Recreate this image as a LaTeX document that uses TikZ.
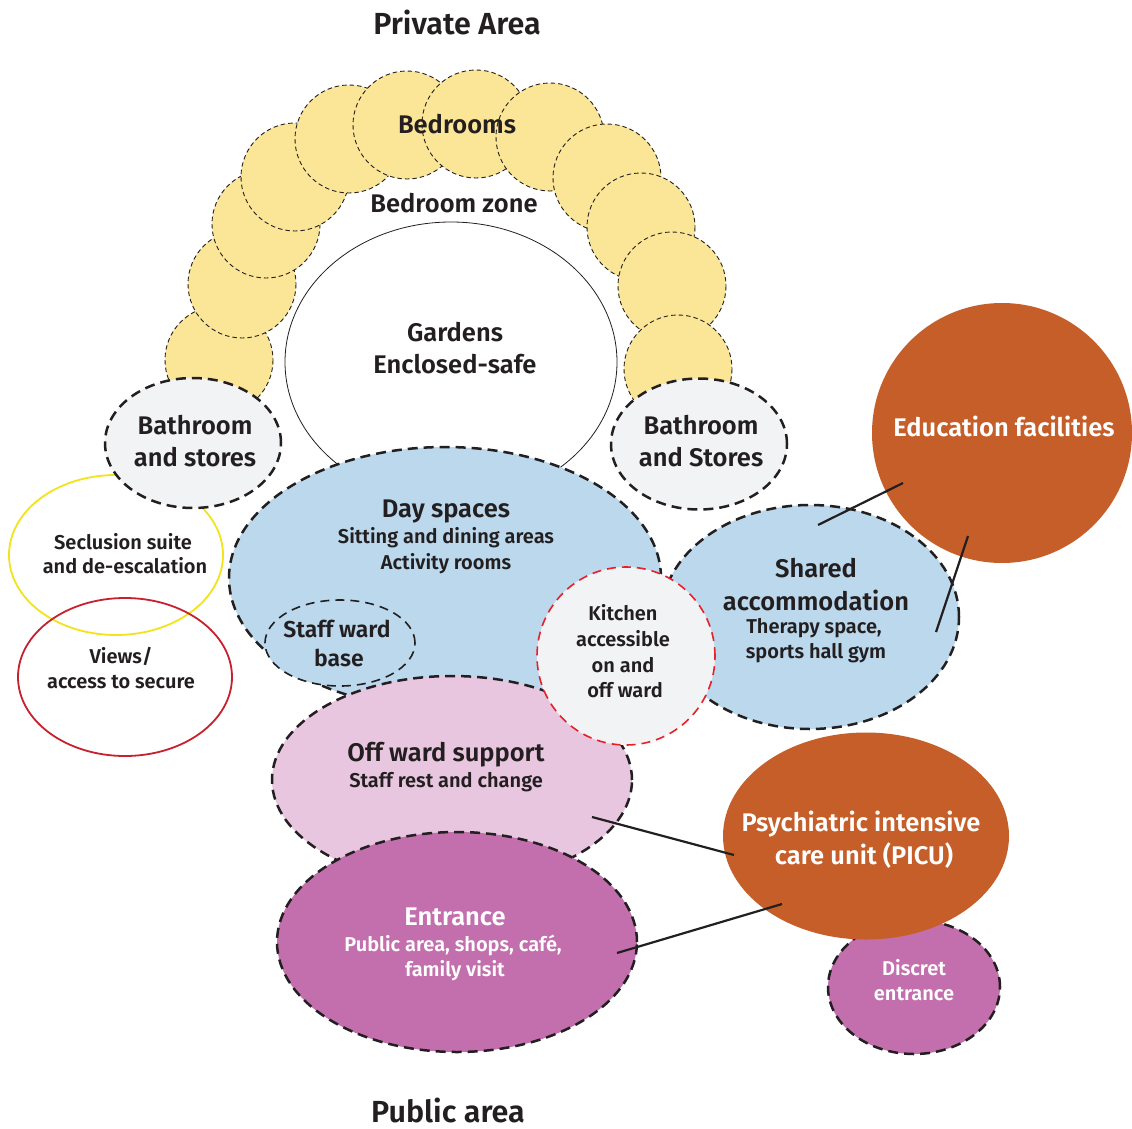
\documentclass[tikz,border=0pt]{standalone}
\usepackage{fontspec}
\setmainfont{Fira Sans}[BoldFont={Fira Sans SemiBold}]
\usetikzlibrary{shapes.geometric}
\definecolor{bedY}{HTML}{FBE596}
\definecolor{lgray}{HTML}{F2F3F5}
\definecolor{lblue}{HTML}{BBD8EC}
\definecolor{lpink}{HTML}{E8C6DF}
\definecolor{purp}{HTML}{C36FAE}
\definecolor{orng}{HTML}{C55E28}
\definecolor{ylw}{HTML}{F1E31C}
\definecolor{rred}{HTML}{C8202F}
\definecolor{kred}{HTML}{E8202A}
\definecolor{dark}{HTML}{231F20}
\begin{document}
\begin{tikzpicture}[x=1pt,y=-1pt,
  zone/.style={ellipse, inner sep=0pt, draw=dark, line width=2.5pt, dash pattern=on 10pt off 6pt},
  plain/.style={ellipse, inner sep=0pt},
  big/.style={font=\bfseries\fontsize{25.5}{30}\selectfont, text=dark, inner sep=0pt},
  title/.style={font=\bfseries\fontsize{30.5}{34}\selectfont, text=dark, inner sep=0pt},
  sub/.style={font=\bfseries\fontsize{20}{24}\selectfont, text=dark, inner sep=0pt},
  conn/.style={draw=dark, line width=2.2pt}
]
\useasboundingbox (0,0) rectangle (1132,1129);
\fill[white] (0,0) rectangle (1132,1129);

% Bedroom circles, stacked in order
\foreach \cx/\cy in {219/360,242/284,266/224,295/177,349/139,407/125,476/124,550/137,607/178,641/227,672/286,678/369}
  \filldraw[fill=bedY, draw=dark, line width=0.9pt, dash pattern=on 4.5pt off 3pt] (\cx,\cy) circle (54);

% Gardens
\node[plain, draw=dark, line width=0.8pt, fill=white, minimum width=332pt, minimum height=280pt] (gardens) at (451,362) {};

% Seclusion and Views
\node[plain, draw=ylw, line width=1.8pt, minimum width=214pt, minimum height=160pt] (secl) at (116,555) {};
\node[plain, draw=rred, line width=1.8pt, minimum width=214pt, minimum height=158pt] (views) at (125,677) {};

% Bathrooms
\node[zone, fill=lgray, minimum width=176pt, minimum height=130pt] (bathL) at (193,443) {};
\node[zone, fill=lgray, minimum width=176pt, minimum height=131pt] (bathR) at (699,444) {};

% Day spaces
\node[zone, fill=lblue, minimum width=432pt, minimum height=262pt] (day) at (445,578) {};
\node[ellipse, inner sep=0pt, fill=lblue, draw=dark, line width=1.6pt, dash pattern=on 9pt off 6pt, minimum width=150pt, minimum height=86pt] (staff) at (340,643) {};

% Education
\node[circle, inner sep=0pt, fill=orng, minimum size=260pt] (edu) at (1002,433) {};

% Shared accommodation
\node[zone, fill=lblue, minimum width=298pt, minimum height=224pt] (shared) at (810,617) {};

% Off ward support
\node[zone, fill=lpink, minimum width=360pt, minimum height=208pt] (offward) at (452,780) {};

% Kitchen
\node[circle, inner sep=0pt, fill=lgray, draw=kred, line width=1.6pt, dash pattern=on 9pt off 6pt, minimum size=178pt] (kitchen) at (626,656) {};

% Entrance
\node[zone, fill=purp, minimum width=360pt, minimum height=220pt] (entrance) at (457,942) {};

% Discret entrance and PICU
\node[zone, fill=purp, minimum width=172pt, minimum height=134pt] (discret) at (914,987) {};
\node[plain, fill=orng, minimum width=286pt, minimum height=207pt] (picu) at (866,836) {};

% Texts
\node[title] (tpriv) at (457,22) {Private Area};
\node[title] (tpub) at (448,1110) {Public area};
\node[big] (tbed) at (457,124) {Bedrooms};
\node[big] (tzone) at (454,203) {Bedroom zone};
\node[big] (tgard1) at (455,332) {Gardens};
\node[big] (tgard2) at (455,364) {Enclosed-safe};
\node[big] (tbl1) at (195,425) {Bathroom};
\node[big] (tbl2) at (195,457) {and stores};
\node[big] (tbr1) at (701,425) {Bathroom};
\node[big] (tbr2) at (701,457) {and Stores};
\node[sub] (tsec1) at (123,542) {Seclusion suite};
\node[sub] (tsec2) at (125,566) {and de-escalation};
\node[sub] (tv1) at (121,656) {Views/};
\node[sub] (tv2) at (121,682) {access to secure};
\node[big] (tday) at (446,511) {Day spaces};
\node[sub] (tday2) at (446,538) {Sitting and dining areas};
\node[sub] (tday3) at (446,564) {Activity rooms};
\node[big, font=\bfseries\fontsize{23}{27}\selectfont] (tst1) at (337,629) {Staff ward};
\node[big, font=\bfseries\fontsize{23}{27}\selectfont] (tst2) at (339,658) {base};
\node[sub] (tk1) at (623,613) {Kitchen};
\node[sub] (tk2) at (623,639) {accessible};
\node[sub] (tk3) at (623,665) {on and};
\node[sub] (tk4) at (625,690) {off ward};
\node[big] (tsh1) at (816,568) {Shared};
\node[big] (tsh2) at (816,600) {accommodation};
\node[sub] (tsh3) at (814,628) {Therapy space,};
\node[sub] (tsh4) at (816,653) {sports hall gym};
\node[big, text=white] (tedu) at (1004,426) {Education facilities};
\node[big] (tof1) at (446,755) {Off ward support};
\node[sub] (tof2) at (446,782) {Staff rest and change};
\node[big, text=white] (tp1) at (861,824) {Psychiatric intensive};
\node[big, text=white] (tp2) at (864,856) {care unit (PICU)};
\node[big, text=white] (ten1) at (455,917) {Entrance};
\node[sub, text=white] (ten2) at (453,945) {Public area, shops, café,};
\node[sub, text=white] (ten3) at (455,971) {family visit};
\node[sub, text=white] (td1) at (914,968) {Discret};
\node[sub, text=white] (td2) at (914,994) {entrance};

% Connectors
\coordinate (c1a) at (818,525);
\coordinate (c1b) at (903,483);
\coordinate (c2a) at (936,632);
\coordinate (c2b) at (968,536);
\coordinate (c3a) at (592,817);
\coordinate (c3b) at (734,855);
\coordinate (c4a) at (617,953);
\coordinate (c4b) at (782,904);
\draw[conn] (c1a) -- (c1b);
\draw[conn] (c2a) -- (c2b);
\draw[conn] (c3a) -- (c3b);
\draw[conn] (c4a) -- (c4b);
\end{tikzpicture}
\end{document}
